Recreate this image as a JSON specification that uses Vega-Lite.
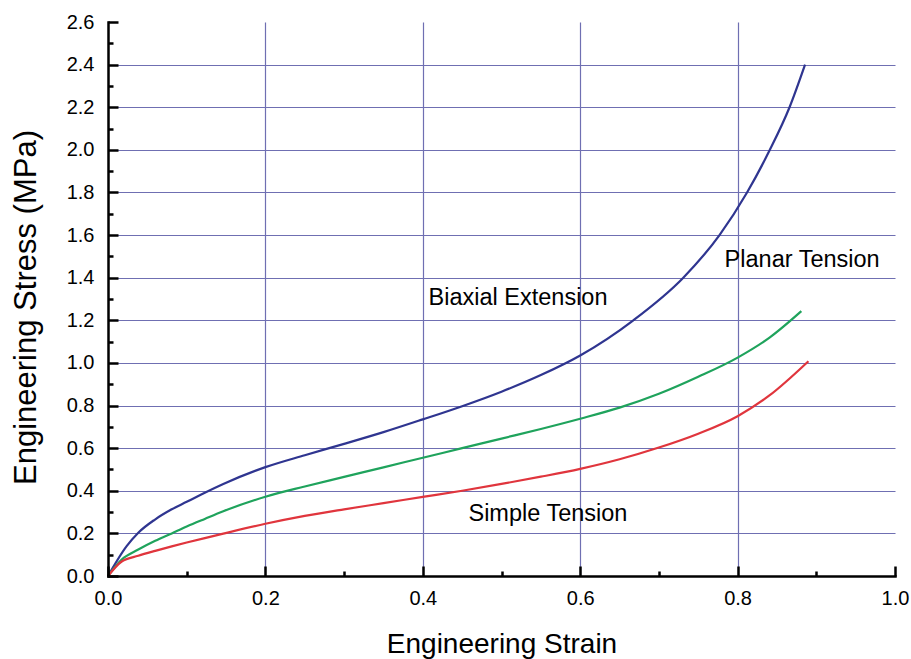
{
  "$schema": "https://vega.github.io/schema/vega-lite/v6.json",
  "width": 787,
  "height": 554,
  "autosize": "none",
  "padding": {"left": 108, "top": 22, "right": 16, "bottom": 83},
  "background": "white",
  "config": {"view": {"stroke": null}, "font": "Liberation Sans"},
  "datasets": {
    "curves": [
      {"series": "Biaxial", "strain": 0, "stress": 0},
      {"series": "Biaxial", "strain": 0.0237, "stress": 0.14},
      {"series": "Biaxial", "strain": 0.0385, "stress": 0.203},
      {"series": "Biaxial", "strain": 0.0597, "stress": 0.265},
      {"series": "Biaxial", "strain": 0.081, "stress": 0.313},
      {"series": "Biaxial", "strain": 0.1, "stress": 0.348},
      {"series": "Biaxial", "strain": 0.123, "stress": 0.391},
      {"series": "Biaxial", "strain": 0.1465, "stress": 0.432},
      {"series": "Biaxial", "strain": 0.2, "stress": 0.511},
      {"series": "Biaxial", "strain": 0.25, "stress": 0.567},
      {"series": "Biaxial", "strain": 0.3, "stress": 0.62},
      {"series": "Biaxial", "strain": 0.35, "stress": 0.675},
      {"series": "Biaxial", "strain": 0.4, "stress": 0.735},
      {"series": "Biaxial", "strain": 0.45, "stress": 0.797},
      {"series": "Biaxial", "strain": 0.5, "stress": 0.865},
      {"series": "Biaxial", "strain": 0.55, "stress": 0.943},
      {"series": "Biaxial", "strain": 0.6, "stress": 1.035},
      {"series": "Biaxial", "strain": 0.6675, "stress": 1.2},
      {"series": "Biaxial", "strain": 0.731, "stress": 1.4},
      {"series": "Biaxial", "strain": 0.777, "stress": 1.6},
      {"series": "Biaxial", "strain": 0.812, "stress": 1.8},
      {"series": "Biaxial", "strain": 0.841, "stress": 2.0},
      {"series": "Biaxial", "strain": 0.866, "stress": 2.2},
      {"series": "Biaxial", "strain": 0.8857, "stress": 2.4},
      {"series": "Planar", "strain": 0, "stress": 0},
      {"series": "Planar", "strain": 0.0174, "stress": 0.077},
      {"series": "Planar", "strain": 0.0385, "stress": 0.124},
      {"series": "Planar", "strain": 0.06, "stress": 0.165},
      {"series": "Planar", "strain": 0.081, "stress": 0.2},
      {"series": "Planar", "strain": 0.1, "stress": 0.232},
      {"series": "Planar", "strain": 0.123, "stress": 0.268},
      {"series": "Planar", "strain": 0.1465, "stress": 0.304},
      {"series": "Planar", "strain": 0.2, "stress": 0.372},
      {"series": "Planar", "strain": 0.25, "stress": 0.42},
      {"series": "Planar", "strain": 0.3, "stress": 0.465},
      {"series": "Planar", "strain": 0.35, "stress": 0.51},
      {"series": "Planar", "strain": 0.4, "stress": 0.555},
      {"series": "Planar", "strain": 0.45, "stress": 0.6},
      {"series": "Planar", "strain": 0.5, "stress": 0.645},
      {"series": "Planar", "strain": 0.55, "stress": 0.69},
      {"series": "Planar", "strain": 0.6, "stress": 0.738},
      {"series": "Planar", "strain": 0.65, "stress": 0.79},
      {"series": "Planar", "strain": 0.7, "stress": 0.855},
      {"series": "Planar", "strain": 0.75, "stress": 0.935},
      {"series": "Planar", "strain": 0.8, "stress": 1.025},
      {"series": "Planar", "strain": 0.841, "stress": 1.12},
      {"series": "Planar", "strain": 0.881, "stress": 1.243},
      {"series": "Simple", "strain": 0, "stress": 0},
      {"series": "Simple", "strain": 0.0174, "stress": 0.068},
      {"series": "Simple", "strain": 0.0385, "stress": 0.095},
      {"series": "Simple", "strain": 0.06, "stress": 0.118},
      {"series": "Simple", "strain": 0.081, "stress": 0.139},
      {"series": "Simple", "strain": 0.1, "stress": 0.157},
      {"series": "Simple", "strain": 0.123, "stress": 0.178},
      {"series": "Simple", "strain": 0.1465, "stress": 0.199},
      {"series": "Simple", "strain": 0.2, "stress": 0.245},
      {"series": "Simple", "strain": 0.25, "stress": 0.282},
      {"series": "Simple", "strain": 0.3, "stress": 0.313},
      {"series": "Simple", "strain": 0.35, "stress": 0.342},
      {"series": "Simple", "strain": 0.4, "stress": 0.371},
      {"series": "Simple", "strain": 0.45, "stress": 0.4},
      {"series": "Simple", "strain": 0.5, "stress": 0.432},
      {"series": "Simple", "strain": 0.55, "stress": 0.466},
      {"series": "Simple", "strain": 0.6, "stress": 0.503},
      {"series": "Simple", "strain": 0.65, "stress": 0.548},
      {"series": "Simple", "strain": 0.7, "stress": 0.603},
      {"series": "Simple", "strain": 0.75, "stress": 0.668},
      {"series": "Simple", "strain": 0.8, "stress": 0.75},
      {"series": "Simple", "strain": 0.84, "stress": 0.846},
      {"series": "Simple", "strain": 0.89, "stress": 1.008}
    ],
    "labels": [
      {"text": "Biaxial Extension", "strain": 0.521, "stress": 1.307},
      {"text": "Planar Tension", "strain": 0.882, "stress": 1.481},
      {"text": "Simple Tension", "strain": 0.559, "stress": 0.293}
    ]
  },
  "layer": [
    {
      "data": {"name": "curves"},
      "mark": {"type": "line", "strokeOpacity": 0},
      "encoding": {
        "x": {"field": "strain", "type": "quantitative",
          "scale": {"domain": [0, 1], "nice": false, "zero": false},
          "axis": {"orient": "bottom", "values": [0.2, 0.4, 0.6, 0.8], "grid": true, "gridColor": "#6f6fb2", "gridWidth": 1.2, "gridOpacity": 1, "ticks": false, "labels": false, "domain": false, "title": null, "zindex": 0}},
        "y": {"field": "stress", "type": "quantitative",
          "scale": {"domain": [0, 2.6], "nice": false, "zero": false},
          "axis": {"orient": "left", "values": [0.2, 0.4, 0.6, 0.8, 1.0, 1.2, 1.4, 1.6, 1.8, 2.0, 2.2, 2.4], "grid": true, "gridColor": "#6f6fb2", "gridWidth": 1.2, "gridOpacity": 1, "ticks": false, "labels": false, "domain": false, "title": null, "zindex": 0}},
        "detail": {"field": "series"}
      }
    },
    {
      "data": {"name": "curves"},
      "mark": {"type": "line", "strokeOpacity": 0},
      "encoding": {
        "x": {"field": "strain", "type": "quantitative",
          "scale": {"domain": [0, 1], "nice": false, "zero": false},
          "axis": {"orient": "bottom", "values": [0.1, 0.3, 0.5, 0.7, 0.9], "grid": false, "ticks": true, "tickSize": -5, "tickWidth": 2.5, "tickColor": "black", "labels": false, "domain": false, "title": null, "zindex": 1}},
        "y": {"field": "stress", "type": "quantitative",
          "scale": {"domain": [0, 2.6], "nice": false, "zero": false},
          "axis": {"orient": "left", "values": [0.1, 0.3, 0.5, 0.7, 0.9, 1.1, 1.3, 1.5, 1.7, 1.9, 2.1, 2.3, 2.5], "grid": false, "ticks": true, "tickSize": -5, "tickWidth": 2.5, "tickColor": "black", "labels": false, "domain": false, "title": null, "zindex": 1}},
        "detail": {"field": "series"}
      }
    },
    {
      "data": {"name": "curves"},
      "mark": {"type": "line", "strokeWidth": 2.2, "interpolate": "monotone"},
      "encoding": {
        "x": {"field": "strain", "type": "quantitative",
          "scale": {"domain": [0, 1], "nice": false, "zero": false},
          "axis": {"orient": "bottom", "values": [0, 0.2, 0.4, 0.6, 0.8, 1.0], "format": ".1f", "grid": false,
            "domain": true, "domainColor": "black", "domainWidth": 2.5, "domainCap": "square",
            "ticks": true, "tickSize": -10, "tickWidth": 2.5, "tickColor": "black",
            "labelFontSize": 20, "labelColor": "black", "labelPadding": 22, "labelFlush": false, "labelOverlap": false,
            "title": "Engineering Strain", "titleFontSize": 28, "titleFontWeight": "normal", "titleColor": "black",
            "titleY": 76, "titleBaseline": "alphabetic", "zindex": 1}},
        "y": {"field": "stress", "type": "quantitative",
          "scale": {"domain": [0, 2.6], "nice": false, "zero": false},
          "axis": {"orient": "left", "values": [0, 0.2, 0.4, 0.6, 0.8, 1.0, 1.2, 1.4, 1.6, 1.8, 2.0, 2.2, 2.4, 2.6], "format": ".1f", "grid": false,
            "domain": true, "domainColor": "black", "domainWidth": 2.5, "domainCap": "square",
            "ticks": true, "tickSize": -10, "tickWidth": 2.5, "tickColor": "black",
            "labelFontSize": 20, "labelColor": "black", "labelPadding": 24, "labelFlush": false, "labelOverlap": false,
            "title": "Engineering Stress (MPa)", "titleFontSize": 31, "titleFontWeight": "normal", "titleColor": "black",
            "titleX": -73, "titleY": 285, "titleBaseline": "alphabetic", "zindex": 1}},
        "color": {"field": "series", "type": "nominal",
          "scale": {"domain": ["Biaxial", "Planar", "Simple"], "range": ["#2f3590", "#1fa35c", "#e0353d"]},
          "legend": null}
      }
    },
    {
      "data": {"name": "labels"},
      "mark": {"type": "text", "fontSize": 23.5, "color": "black", "align": "center", "baseline": "middle", "font": "Liberation Sans"},
      "encoding": {
        "x": {"field": "strain", "type": "quantitative", "scale": {"domain": [0, 1], "nice": false, "zero": false}, "axis": null},
        "y": {"field": "stress", "type": "quantitative", "scale": {"domain": [0, 2.6], "nice": false, "zero": false}, "axis": null},
        "text": {"field": "text"}
      }
    }
  ],
  "resolve": {"axis": {"x": "independent", "y": "independent"}}
}
